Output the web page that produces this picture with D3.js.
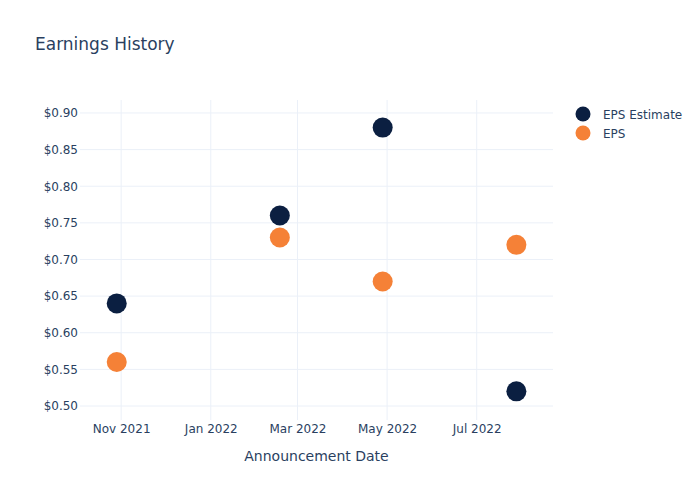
<!DOCTYPE html>
<html><head><meta charset="utf-8">
<script src="https://cdn.jsdelivr.net/npm/d3@7"></script>
<style>body{margin:0;background:#fff;} text{font-family:"DejaVu Sans",Verdana,sans-serif;}</style>
</head><body>
<svg id="chart" width="700" height="500"></svg>
<script>
const dates = ["2021-10-29","2022-02-17","2022-04-28","2022-07-28"];
const epsEstimate = [0.64, 0.76, 0.88, 0.52];
const eps = [0.56, 0.73, 0.67, 0.72];
const yTicks = [0.50,0.55,0.60,0.65,0.70,0.75,0.80,0.85,0.90];
const xTicks = ["2021-11-01","2022-01-01","2022-03-01","2022-05-01","2022-07-01"];
const seriesNames = ["EPS Estimate","EPS"];
const colors = ["#0b1f41","#f58137"];

const parse = d3.utcParse("%Y-%m-%d");
const svg = d3.select("#chart");
const m = {l:80, r:147, t:100, b:80};
const W = 700, H = 500;
const x = d3.scaleUtc().domain([parse("2021-10-04"), new Date(Date.UTC(2022,7,21,22))]).range([m.l, W-m.r]);
const y = d3.scaleLinear().domain([0.4809, 0.9177]).range([H-m.b, m.t]);
const textColor = "#2a3f5f", grid = "#ebf0f8";

svg.append("text").attr("x",35).attr("y",50).attr("font-size",17).attr("fill",textColor).text("Earnings History");

const g = svg.append("g");
g.append("g").selectAll("line").data(xTicks).join("line")
  .attr("x1",d=>x(parse(d))).attr("x2",d=>x(parse(d))).attr("y1",m.t).attr("y2",H-m.b)
  .attr("stroke",grid).attr("stroke-width",1);
g.append("g").selectAll("line").data(yTicks).join("line")
  .attr("x1",m.l).attr("x2",W-m.r).attr("y1",d=>y(d)).attr("y2",d=>y(d))
  .attr("stroke",grid).attr("stroke-width",1);

const fmtX = d3.utcFormat("%b %Y");
const xAxis = d3.axisBottom(x).tickValues(xTicks.map(parse)).tickFormat(fmtX).tickSize(0).tickPadding(4);
const gx = svg.append("g").attr("transform",`translate(0,${H-m.b})`).call(xAxis);
gx.select(".domain").remove();
gx.selectAll("text").attr("font-size",12).attr("fill",textColor).attr("font-family","DejaVu Sans");

const yAxis = d3.axisLeft(y).tickValues(yTicks).tickFormat(d=>"$"+d.toFixed(2)).tickSize(0).tickPadding(2);
const gy = svg.append("g").attr("transform",`translate(${m.l},0)`).call(yAxis);
gy.select(".domain").remove();
gy.selectAll("text").attr("font-size",12).attr("fill",textColor).attr("font-family","DejaVu Sans");

svg.append("text").attr("x",(m.l+W-m.r)/2).attr("y",461).attr("text-anchor","middle")
  .attr("font-size",14).attr("fill",textColor).text("Announcement Date");

const series = [epsEstimate, eps];
series.forEach((vals,i)=>{
  svg.append("g").selectAll("circle").data(vals).join("circle")
    .attr("cx",(d,j)=>x(parse(dates[j]))).attr("cy",d=>y(d)).attr("r",10)
    .attr("fill",colors[i]);
});

const lg = svg.append("g");
seriesNames.forEach((n,i)=>{
  const yy = 114 + i*19;
  lg.append("circle").attr("cx",583).attr("cy",yy).attr("r",7.5).attr("fill",colors[i]);
  lg.append("text").attr("x",603).attr("y",yy+4.5).attr("font-size",12).attr("fill",textColor).text(n);
});
</script>
</body></html>
